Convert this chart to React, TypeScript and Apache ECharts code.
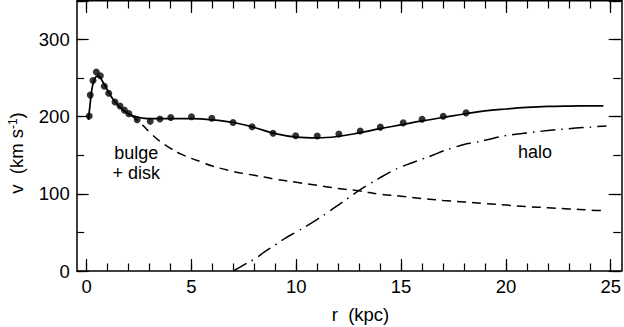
import React, { useEffect, useRef } from "react";
import * as echarts from "echarts";

// Observed rotation-curve points: [r (kpc), v (km/s)]
const obsPoints: [number, number][] = [
  [0.12, 201], [0.17, 228], [0.3, 247], [0.46, 258], [0.65, 253], [0.84, 239.5],
  [1.05, 230.5], [1.35, 219], [1.59, 214], [1.8, 208.5], [2.01, 204], [2.41, 196],
  [3.03, 194], [3.49, 197], [4.01, 199], [5.0, 200], [5.97, 198], [6.98, 192.5],
  [7.89, 187], [8.89, 178.5], [9.97, 175.4], [11.0, 175], [12.03, 177.6], [13.05, 181.4],
  [14.01, 186.5], [15.1, 192], [16.0, 196.8], [17.01, 200.6], [18.1, 205],
];

// Total model curve
const totalCurve: [number, number][] = [
  [0.08, 196], [0.15, 213], [0.25, 236], [0.35, 247], [0.5, 252.5], [0.62, 251.5],
  [0.75, 246], [0.9, 239], [1.05, 231.5], [1.3, 221], [1.6, 212], [2.0, 203.5],
  [2.5, 199], [3, 197.5], [4, 197.5], [5, 197.5], [6, 196], [7, 192.5], [8, 186],
  [9, 178], [10, 173.5], [11, 172.5], [12, 174.5], [13, 179], [14, 184.5], [15, 189.5],
  [16, 194.5], [17, 199], [18, 203.5], [19, 207.5], [20, 210], [21, 212], [22, 213.3],
  [23, 213.8], [24, 214], [24.65, 214],
];

// Bulge + disk component
const bulgeDiskCurve: [number, number][] = [
  [2.1, 202], [2.5, 193.5], [3, 180], [3.5, 168], [4, 159], [4.5, 151.5], [5, 146],
  [5.5, 141], [6, 136], [7, 129], [8, 124], [9, 119], [10, 115], [11, 111], [12, 107],
  [13, 104], [14, 99.5], [15, 97], [16, 94], [17, 91.5], [18, 89.5], [19, 87.5],
  [20, 85.5], [21, 83.5], [22, 82], [23, 80.5], [24, 79], [24.65, 78.5],
];

// Dark-matter halo component
const haloCurve: [number, number][] = [
  [7, 0], [7.5, 8], [8, 15.5], [8.5, 25], [9, 34], [9.5, 43], [10, 50.5], [10.5, 58.5],
  [11, 67], [11.5, 76], [12, 85.5], [12.5, 95], [13, 104.5], [13.5, 113], [14, 121],
  [14.5, 128.5], [15, 135], [15.5, 140], [16, 145], [16.5, 150], [17, 155.5], [17.5, 160],
  [18, 164], [18.5, 166.5], [19, 169.5], [20, 175.5], [21, 179], [22, 182], [23, 184.5],
  [24, 186.5], [24.8, 188],
];

const xTicks = { min: 0, max: 25, major: 5, minor: 1 };
const yTicks = { min: 0, max: 350, major: 100, minor: 50 };

const FONT = "'Liberation Sans', Arial, Helvetica, sans-serif";

export default function App() {
  const ref = useRef<HTMLDivElement>(null);
  useEffect(() => {
    if (!ref.current) return;
    const chart = echarts.init(ref.current, undefined, { renderer: "svg" });
    const tickLine = { color: "#000", width: 1.2 };
    const yAxisBase = (position: string, interval: number, len: number, labels: boolean) => ({
      type: "value",
      position,
      offset: 10,
      min: yTicks.min,
      max: yTicks.max,
      interval,
      axisLine: { show: false, onZero: false },
      splitLine: { show: false },
      axisTick: { show: true, inside: true, length: len, lineStyle: tickLine },
      axisLabel: labels
        ? {
            show: true,
            margin: 7,
            fontSize: 18.5,
            fontFamily: FONT,
            color: "#000",
            formatter: (v: number) => (v % 100 === 0 ? String(v) : ""),
          }
        : { show: false },
    });
    const xAxisBase = (position: string, interval: number, len: number, labels: boolean) => ({
      type: "value",
      position,
      min: xTicks.min,
      max: xTicks.max,
      interval,
      axisLine: { show: false, onZero: false },
      splitLine: { show: false },
      axisTick: { show: true, inside: true, length: len, lineStyle: tickLine },
      axisLabel: labels
        ? { show: true, margin: 6, fontSize: 18.5, fontFamily: FONT, color: "#000" }
        : { show: false },
    });
    chart.setOption({
      animation: false,
      backgroundColor: "#fff",
      grid: { left: 86.7, right: 12.3, top: 1, bottom: 56, containLabel: false },
      xAxis: [
        xAxisBase("bottom", xTicks.major, 12, true),
        xAxisBase("top", xTicks.major, 12, false),
        xAxisBase("bottom", xTicks.minor, 7.5, false),
        xAxisBase("top", xTicks.minor, 7.5, false),
      ],
      yAxis: [
        yAxisBase("left", yTicks.major, 12, true),
        yAxisBase("left", yTicks.minor, 7.5, false),
        yAxisBase("right", yTicks.major, 12, false),
        yAxisBase("right", yTicks.minor, 7.5, false),
      ],
      series: [
        {
          type: "line",
          data: haloCurve,
          smooth: 0.4,
          showSymbol: false,
          lineStyle: { color: "#000", width: 1.5, type: [15, 6, 1.5, 6] },
          z: 2,
        },
        {
          type: "line",
          data: bulgeDiskCurve,
          smooth: 0.4,
          showSymbol: false,
          lineStyle: { color: "#000", width: 1.5, type: [9, 6] },
          z: 2,
        },
        {
          type: "line",
          data: totalCurve,
          smooth: 0.4,
          showSymbol: false,
          lineStyle: { color: "#000", width: 1.7 },
          z: 3,
        },
        {
          type: "scatter",
          data: obsPoints,
          symbol: "circle",
          symbolSize: 7,
          itemStyle: { color: "#000" },
          z: 4,
        },
      ],
      graphic: [
        {
          type: "rect",
          shape: { x: 77, y: 0.75, width: 545, height: 270.25 },
          style: { fill: "none", stroke: "#000", lineWidth: 1.5 },
          z: 10,
          silent: true,
        },
        {
          type: "text",
          x: 136.3,
          y: 163,
          style: {
            text: "bulge\n+ disk",
            fontSize: 18,
            fontFamily: FONT,
            fill: "#000",
            align: "center",
            verticalAlign: "middle",
            lineHeight: 20,
          },
        },
        {
          type: "text",
          x: 535,
          y: 151.5,
          style: {
            text: "halo",
            fontSize: 18,
            fontFamily: FONT,
            fill: "#000",
            align: "center",
            verticalAlign: "middle",
          },
        },
        {
          type: "text",
          x: 360.5,
          y: 314.5,
          style: {
            text: "r  (kpc)",
            fontSize: 18.5,
            fontFamily: FONT,
            fill: "#000",
            align: "center",
            verticalAlign: "middle",
          },
        },
        {
          type: "text",
          x: 16.5,
          y: 153,
          rotation: Math.PI / 2,
          style: {
            text: "v  (km s{sup|-1})",
            fontSize: 18.5,
            fontFamily: FONT,
            fill: "#000",
            align: "center",
            verticalAlign: "middle",
            lineHeight: 20,
            rich: {
              sup: { fontSize: 12, fontFamily: FONT, fill: "#000", verticalAlign: "top", lineHeight: 12 },
            },
          },
        },
      ],
    });
    return () => chart.dispose();
  }, []);
  return (
    <div
      ref={ref}
      style={{ position: "fixed", left: 0, top: 0, width: 624, height: 327, background: "#fff" }}
    />
  );
}
